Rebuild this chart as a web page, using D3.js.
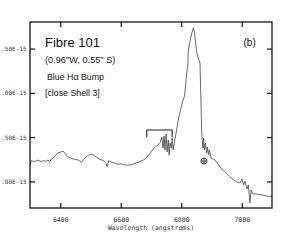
<!DOCTYPE html>
<html><head><meta charset="utf-8">
<script src="https://cdn.jsdelivr.net/npm/d3@7"></script>
<style>body{margin:0;background:#fff}svg{display:block}</style>
</head><body>
<script>
// Data (flux in units of 1e-15)
const wavelength = [6300,6304,6315,6326,6337,6345,6352,6360,6365,6370,6376,6384,6393,6401,6409,6415,6420,6428,6437,6448,6459,6465,6470,6478,6486,6494,6503,6509,6514,6522,6530,6539,6547,6552,6555,6560,6567,6574,6582,6591,6600,6609,6618,6631,6647,6664,6680,6697,6713,6723,6730,6736,6740,6743,6746,6750,6753,6757,6760,6763,6767,6770,6773,6779,6789,6799,6806,6809,6812,6816,6820,6822,6823,6827,6831,6836,6840,6844,6848,6851,6855,6862,6865,6867,6869,6870,6872,6874,6877,6880,6884,6887,6890,6893,6898,6905,6912,6920,6928,6936,6945,6953,6961,6968,6974,6980,6984,6990,6994,7001,7006,7011,7017,7022,7027,7031,7037,7044,7050,7058,7067,7075,7083,7092,7100];
const flux = [1.18,1.234,1.225,1.24,1.223,1.235,1.228,1.242,1.219,1.25,1.264,1.29,1.324,1.33,1.343,1.32,1.298,1.275,1.261,1.25,1.242,1.232,1.216,1.25,1.279,1.295,1.309,1.3,1.287,1.27,1.25,1.24,1.223,1.2,1.166,1.234,1.22,1.211,1.205,1.193,1.2,1.19,1.185,1.185,1.204,1.223,1.25,1.317,1.392,1.411,1.437,1.501,1.377,1.513,1.355,1.535,1.332,1.467,1.298,1.434,1.377,1.49,1.355,1.467,1.671,1.829,1.919,1.942,2.0,2.145,2.28,2.33,2.46,2.55,2.62,2.686,2.735,2.675,2.55,2.46,2.404,2.337,1.919,1.637,1.467,1.434,1.377,1.49,1.355,1.434,1.321,1.388,1.298,1.355,1.264,1.255,1.242,1.2,1.166,1.13,1.106,1.08,1.053,1.03,1.016,1.0,0.993,0.99,0.982,1.027,0.96,1.005,0.914,0.96,0.756,0.903,0.858,0.86,0.858,0.852,0.847,0.842,0.835,0.832,0.83];
const xTicks = [6400,6600,6800,7000];
const yTicks = [1.0,1.5,2.0,2.5];
// tick labels as visible in the (left-clipped) original
const yTickLabels = [".00E-15",".50E-15",".00E-15",".50E-15"];
const bracketX = [6686,6770];
const bracketY = [1.58,1.50];
const markerPoint = [6875,1.23];
const xTitle = "Wavelength (angstroms)";
const panelLabel = "(b)";
const notes = ["Fibre 101","(0.96\"W, 0.55\" S)","Blue H\u03b1 Bump","[close Shell 3]"];

const W=308,H=245;
const m={l:30,t:22,r:272,b:208};
const x=d3.scaleLinear().domain([6300,7100]).range([m.l,m.r]);
const y=d3.scaleLinear().domain([0.7,2.8]).range([m.b,m.t]);

const svg=d3.select("body").append("svg").attr("width",W).attr("height",H);
const mono="'DejaVu Sans Mono', 'Liberation Mono', monospace";

// spectrum
const pts=wavelength.map((w,i)=>[w,flux[i]]);
svg.append("path").datum(pts)
  .attr("d",d3.line().x(d=>x(d[0])).y(d=>y(d[1])))
  .attr("fill","none").attr("stroke","#444").attr("stroke-width",0.8);

// axes (ticks inward)
const ax=(g,axis)=>{g.call(axis);g.select(".domain").remove();g.selectAll("line").attr("stroke","#000").attr("stroke-width",1.1);};
svg.append("g").attr("transform",`translate(0,${m.b})`)
  .call(g=>ax(g,d3.axisBottom(x).tickValues(xTicks).tickSize(-5).tickPadding(9).tickFormat(d3.format("d"))))
  .selectAll("text").attr("font-family",mono).attr("font-size",6.5).attr("fill","#333");
svg.append("g").attr("transform",`translate(0,${m.t})`)
  .call(g=>ax(g,d3.axisTop(x).tickValues(xTicks).tickSize(-5).tickFormat("")));
svg.append("g").attr("transform",`translate(${m.l},0)`)
  .call(g=>ax(g,d3.axisLeft(y).tickValues(yTicks).tickSize(-5).tickPadding(3.5).tickFormat((d,i)=>yTickLabels[i])))
  .selectAll("text").attr("font-family",mono).attr("font-size",6).attr("fill","#333");
svg.append("g").attr("transform",`translate(${m.r},0)`)
  .call(g=>ax(g,d3.axisRight(y).tickValues(yTicks).tickSize(-5).tickFormat("")));

// frame
svg.append("rect").attr("x",m.l).attr("y",m.t).attr("width",m.r-m.l).attr("height",m.b-m.t)
  .attr("fill","none").attr("stroke","#000").attr("stroke-width",1.2);

// x title
svg.append("text").attr("x",151).attr("y",230).attr("text-anchor","middle")
  .attr("font-family",mono).attr("font-size",6.5).attr("fill","#333").text(xTitle);

// bracket
svg.append("path")
  .attr("d",`M${x(bracketX[0])},${y(bracketY[1])}V${y(bracketY[0])}H${x(bracketX[1])}V${y(bracketY[1])}`)
  .attr("fill","none").attr("stroke","#222").attr("stroke-width",1.1);

// circle-plus marker
const mx=x(markerPoint[0]),my=y(markerPoint[1]);
svg.append("circle").attr("cx",mx).attr("cy",my).attr("r",3).attr("fill","none").attr("stroke","#222").attr("stroke-width",0.9);
svg.append("path").attr("d",`M${mx-3},${my}H${mx+3}M${mx},${my-3}V${my+3}`).attr("stroke","#222").attr("stroke-width",0.9);

// annotations
const sans="Arial, 'Liberation Sans', sans-serif";
svg.append("text").attr("x",45).attr("y",46.5).attr("font-family",sans).attr("font-size",13).attr("fill","#111").text(notes[0]);
svg.append("text").attr("x",45).attr("y",62.5).attr("font-family",sans).attr("font-size",9.2).attr("fill","#111").text(notes[1]);
svg.append("text").attr("x",47).attr("y",79.5).attr("font-family",sans).attr("font-size",8.8).attr("fill","#111").text(notes[2]);
svg.append("text").attr("x",45).attr("y",95.5).attr("font-family",sans).attr("font-size",8.8).attr("fill","#111").text(notes[3]);
svg.append("text").attr("x",243.5).attr("y",45.5).attr("font-family",sans).attr("font-size",10).attr("fill","#111").text(panelLabel);
</script>
</body></html>
